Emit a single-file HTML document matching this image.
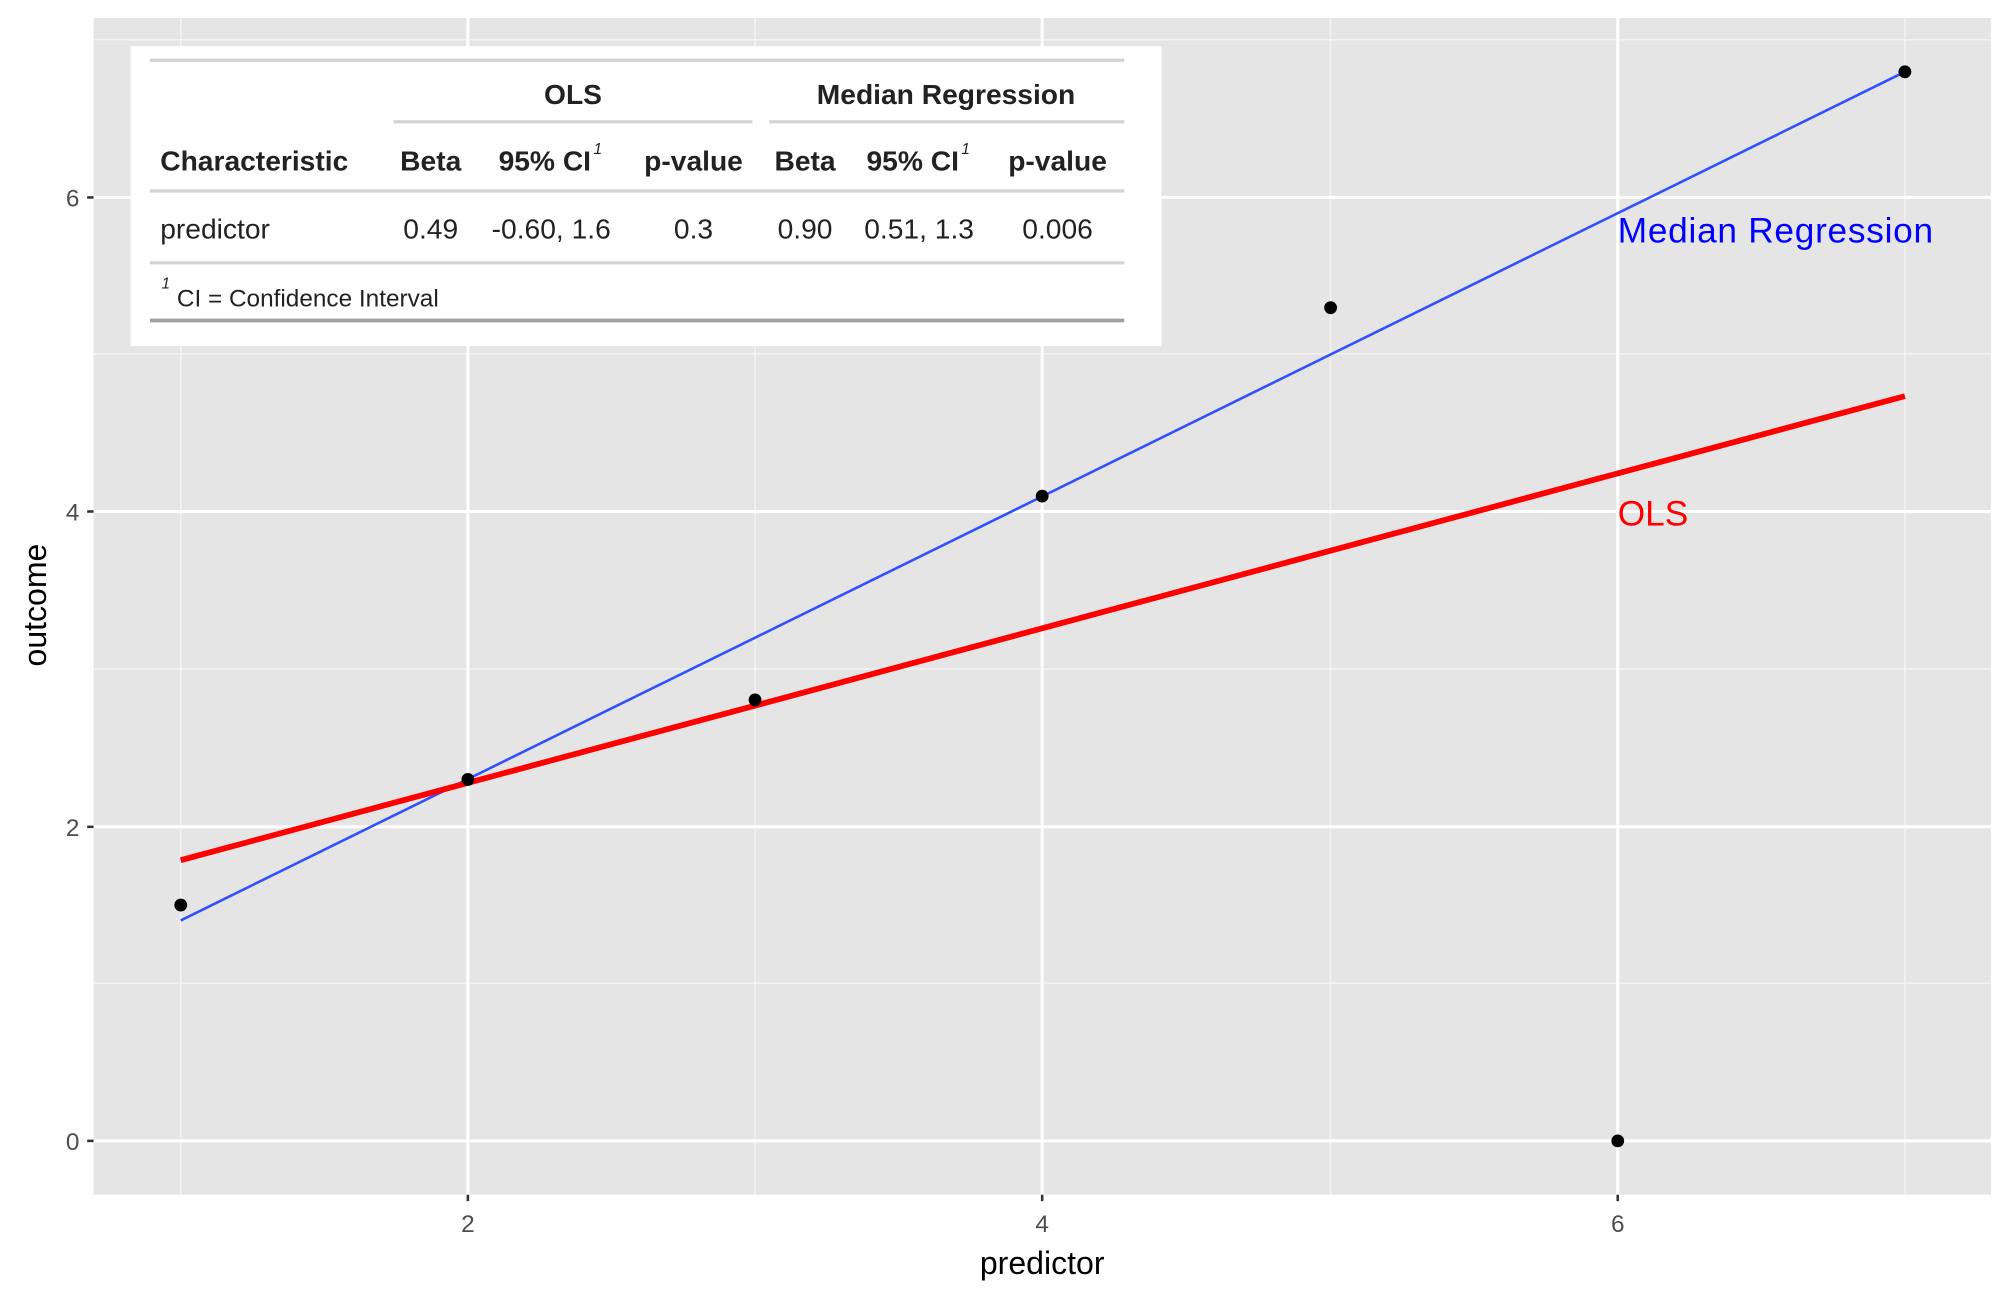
<!DOCTYPE html>
<html><head><meta charset="utf-8"><style>
html,body{margin:0;padding:0;background:#fff}
svg{display:block}
text{font-family:"Liberation Sans",sans-serif}
</style></head><body>
<svg width="2010" height="1300" viewBox="0 0 1568 1014.1" xmlns="http://www.w3.org/2000/svg">
<rect x="0" y="0" width="1568" height="1014.1" fill="#fff"/>
<rect x="73" y="14" width="1480" height="918" fill="#e5e5e5"/>
<g stroke="#f2f2f2" stroke-width="1.2">
<line x1="141" y1="14" x2="141" y2="932"/><line x1="589" y1="14" x2="589" y2="932"/>
<line x1="1038" y1="14" x2="1038" y2="932"/><line x1="1486" y1="14" x2="1486" y2="932"/>
<line x1="73" y1="767" x2="1553" y2="767"/><line x1="73" y1="522" x2="1553" y2="522"/>
<line x1="73" y1="276" x2="1553" y2="276"/><line x1="73" y1="31" x2="1553" y2="31"/>
</g>
<g stroke="#fff" stroke-width="2.4">
<line x1="365" y1="14" x2="365" y2="932"/><line x1="813" y1="14" x2="813" y2="932"/>
<line x1="1262" y1="14" x2="1262" y2="932"/>
<line x1="73" y1="890" x2="1553" y2="890"/><line x1="73" y1="645" x2="1553" y2="645"/>
<line x1="73" y1="399" x2="1553" y2="399"/><line x1="73" y1="154" x2="1553" y2="154"/>
</g>
<g stroke="#333" stroke-width="2">
<line x1="68" y1="890" x2="73" y2="890"/><line x1="68" y1="645" x2="73" y2="645"/>
<line x1="68" y1="399" x2="73" y2="399"/><line x1="68" y1="154" x2="73" y2="154"/>
<line x1="365" y1="932" x2="365" y2="937"/><line x1="813" y1="932" x2="813" y2="937"/>
<line x1="1262" y1="932" x2="1262" y2="937"/>
</g>
<g fill="#4d4d4d" font-size="19" text-anchor="end">
<text x="62" y="897">0</text><text x="62" y="652">2</text><text x="62" y="406">4</text><text x="62" y="161">6</text>
</g>
<g fill="#4d4d4d" font-size="19" text-anchor="middle">
<text x="365" y="961">2</text><text x="813" y="961">4</text><text x="1262" y="961">6</text>
</g>
<text x="813" y="994" font-size="25" text-anchor="middle" fill="#000">predictor</text>
<text transform="translate(36,472) rotate(-90)" font-size="25" text-anchor="middle" fill="#000">outcome</text>
<line x1="141" y1="718" x2="1486" y2="56" stroke="#3050ff" stroke-width="2"/>
<line x1="141" y1="671" x2="1486" y2="309" stroke="#ff0000" stroke-width="4.5"/>
<g fill="#000">
<circle cx="141" cy="706" r="5"/><circle cx="365" cy="608" r="5"/><circle cx="589" cy="546" r="5"/>
<circle cx="813" cy="387" r="5"/><circle cx="1038" cy="240" r="5"/><circle cx="1262" cy="890" r="5"/>
<circle cx="1486" cy="56" r="5"/>
</g>
<text x="1262" y="189" font-size="27.5" fill="#0000ff" textLength="246">Median Regression</text>
<text x="1262" y="410" font-size="27.5" fill="#ff0000">OLS</text>
<rect x="102" y="36" width="804" height="234" fill="#fff"/>
<g stroke="#d3d3d3" stroke-width="2.5">
<line x1="117" y1="47" x2="877" y2="47"/>
<line x1="307" y1="95" x2="587" y2="95"/><line x1="600" y1="95" x2="877" y2="95"/>
<line x1="117" y1="149" x2="877" y2="149"/><line x1="117" y1="205" x2="877" y2="205"/>
</g>
<line x1="117" y1="250" x2="877" y2="250" stroke="#a0a0a0" stroke-width="3"/>
<g font-size="22" fill="#222" font-weight="bold">
<text x="447" y="81" text-anchor="middle">OLS</text>
<text x="738" y="81" text-anchor="middle">Median Regression</text>
<text x="125" y="133">Characteristic</text>
<text x="336" y="133" text-anchor="middle">Beta</text>
<text x="425" y="133" text-anchor="middle">95% CI</text>
<text x="541" y="133" text-anchor="middle">p-value</text>
<text x="628" y="133" text-anchor="middle">Beta</text>
<text x="712" y="133" text-anchor="middle">95% CI</text>
<text x="825" y="133" text-anchor="middle">p-value</text>
</g>
<g font-size="12" fill="#222" font-style="italic">
<text x="463" y="120">1</text><text x="750" y="120">1</text>
</g>
<g font-size="22" fill="#222">
<text x="125" y="186">predictor</text>
<text x="336" y="186" text-anchor="middle">0.49</text>
<text x="430" y="186" text-anchor="middle">-0.60, 1.6</text>
<text x="541" y="186" text-anchor="middle">0.3</text>
<text x="628" y="186" text-anchor="middle">0.90</text>
<text x="717" y="186" text-anchor="middle">0.51, 1.3</text>
<text x="825" y="186" text-anchor="middle">0.006</text>
</g>
<text x="126" y="225" font-size="12" font-style="italic" fill="#222">1</text>
<text x="138" y="239" font-size="19" fill="#222">CI = Confidence Interval</text>
</svg>
</body></html>
